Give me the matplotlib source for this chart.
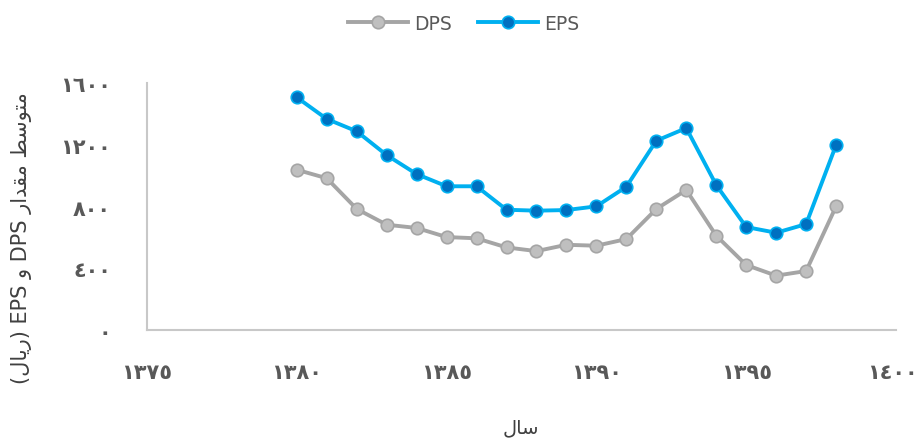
import numpy as np
import matplotlib.pyplot as plt
import matplotlib.transforms as mtransforms

# سال (Solar Hijri years) and average values in Rial
years = list(range(1380, 1399))
dps = [1038, 983, 784, 682, 661, 602, 594, 535, 511, 552,
       546, 589, 784, 907, 611, 421, 352, 382, 801]
eps = [1507, 1367, 1287, 1133, 1010, 931, 931, 779, 773, 777,
       801, 928, 1226, 1308, 939, 667, 630, 686, 1198]

xticks = [1375, 1380, 1385, 1390, 1395, 1400]
yticks = [0, 400, 800, 1200, 1600]

# Arabic-Indic digits
AR_DIGITS = str.maketrans('0123456789', '٠١٢٣٤٥٦٧٨٩')
def ar(n):
    return str(n).translate(AR_DIGITS)

# Persian labels written in shaped presentation forms, visual order
xlabel_fa = '\uFEDD\uFE8E\uFEB3'                      # سال
rial = '\uFEDD\uFE8E\uFEF3\uFEAD'                      # ریال
motavaset = '\uFEC2\uFEB3\uFEEE\uFE98\uFEE3'           # متوسط
meghdar = '\uFEAD\uFE8D\uFEAA\uFED8\uFEE3'             # مقدار
ylabel_fa = '(' + rial + ') EPS \uFEED DPS ' + meghdar + ' ' + motavaset

plt.rcParams['font.family'] = ['DejaVu Sans']

fig = plt.figure(figsize=(9.18, 4.39), dpi=100)
ax = fig.add_axes([147 / 918, 1 - 331 / 439, (896 - 147) / 918, (331 - 84) / 439])

ax.plot(years, dps, color='#A5A5A5', lw=2.8, marker='o', ms=9,
        mfc='#BFBFBF', mec='#A5A5A5', mew=1.2, label='DPS')
ax.plot(years, eps, color='#00B0F0', lw=2.8, marker='o', ms=9,
        mfc='#0070C0', mec='#00B0F0', mew=1.2, label='EPS')

ax.set_xlim(1375, 1400)
ax.set_ylim(0, 1600)
ax.set_xticks(xticks)
ax.set_xticklabels([ar(t) for t in xticks], fontsize=15, fontweight='bold', color='#595959')
ax.set_yticks(yticks)
ax.set_yticklabels([ar(t) for t in yticks], fontsize=15, fontweight='bold', color='#595959')
ax.tick_params(axis='x', length=0, pad=23)
ax.tick_params(axis='y', length=0, pad=26)

# keep the last year label inside the figure edge
last = ax.get_xticklabels()[-1]
last.set_transform(last.get_transform() +
                   mtransforms.ScaledTranslation(-4 / 100, 0, fig.dpi_scale_trans))

for side in ['top', 'right']:
    ax.spines[side].set_visible(False)
for side in ['left', 'bottom']:
    ax.spines[side].set_color('#C8C8C8')
    ax.spines[side].set_linewidth(1.5)

fig.text(521 / 918, 1 - 428 / 439, xlabel_fa, ha='center', va='center',
         fontsize=14, color='#404040')
fig.text(22 / 918, 1 - 238 / 439, ylabel_fa, ha='center', va='center',
         rotation=90, fontsize=15, color='#404040')

fig.legend(loc='upper center', bbox_to_anchor=(0.505, 1.005), ncol=2, frameon=False,
           fontsize=13.5, labelcolor='#595959', handlelength=3.2, columnspacing=1.4,
           handletextpad=0.3)

fig.savefig('out.png', dpi=100)
